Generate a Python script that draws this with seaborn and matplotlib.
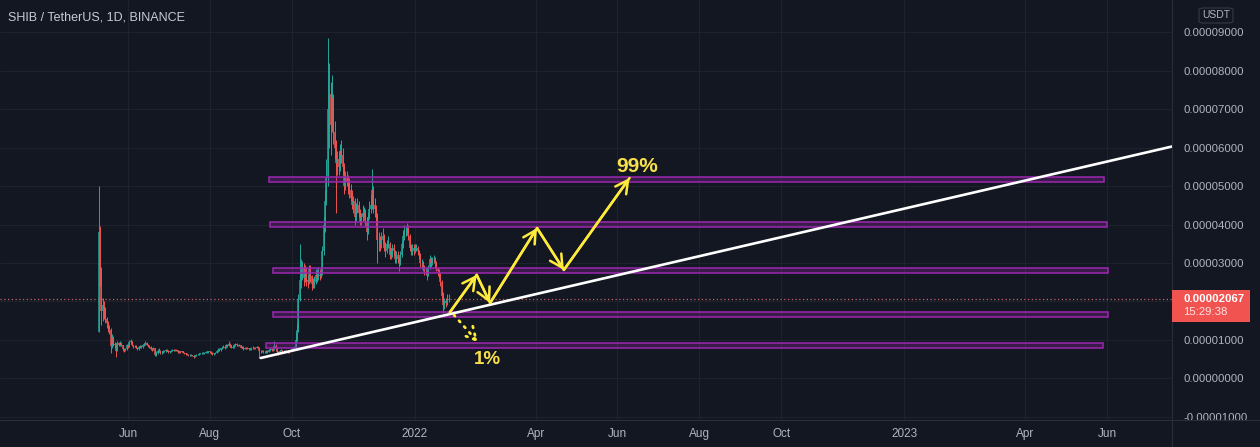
import numpy as np
import pandas as pd
import matplotlib
matplotlib.use("Agg")
import matplotlib.pyplot as plt
import matplotlib.dates as mdates
from matplotlib.patches import Rectangle, FancyBboxPatch
from matplotlib.lines import Line2D
import seaborn as sns

# ---------------- data: SHIB/USDT daily candles, price in units of 1e-5 ----------------
first_day = "2021-05-10"
first_open = 1.20

close_may = [3.80, 2.85, 1.75, 1.90, 1.70, 1.55, 1.45, 1.30, 1.25, 0.85, 1.05, 0.90, 0.88, 0.72, 0.92, 0.88, 0.92, 0.86, 0.76, 0.73, 0.76, 0.86]
high_may = [5.00, 3.95, 2.90, 2.10, 2.00, 1.85, 1.60, 1.50, 1.40, 1.30, 1.15, 1.10, 0.95, 0.90, 0.98, 0.95, 0.98, 0.94, 0.88, 0.80, 0.80, 0.90]
low_may = [1.20, 2.40, 1.40, 1.50, 1.55, 1.45, 1.30, 1.20, 1.15, 0.65, 0.78, 0.85, 0.80, 0.55, 0.70, 0.84, 0.85, 0.84, 0.72, 0.68, 0.70, 0.74]

close_jun = [0.83, 0.95, 0.96, 0.86, 0.83, 0.85, 0.80, 0.76, 0.82, 0.84, 0.82, 0.86, 0.90, 0.92, 0.88, 0.84, 0.81, 0.77, 0.76, 0.78, 0.62, 0.66, 0.72, 0.72, 0.66, 0.67, 0.70, 0.70, 0.73, 0.72]
high_jun = [0.90, 1.00, 1.02, 0.98, 0.88, 0.88, 0.87, 0.82, 0.85, 0.88, 0.86, 0.88, 0.93, 0.96, 0.94, 0.90, 0.86, 0.83, 0.80, 0.82, 0.79, 0.70, 0.76, 0.78, 0.74, 0.70, 0.73, 0.74, 0.76, 0.76]
low_jun = [0.78, 0.81, 0.90, 0.84, 0.80, 0.81, 0.78, 0.74, 0.74, 0.80, 0.80, 0.80, 0.85, 0.88, 0.86, 0.82, 0.78, 0.74, 0.72, 0.74, 0.58, 0.58, 0.64, 0.69, 0.64, 0.63, 0.66, 0.68, 0.69, 0.70]

close_jul = [0.69, 0.70, 0.72, 0.74, 0.72, 0.74, 0.73, 0.68, 0.70, 0.69, 0.70, 0.67, 0.65, 0.64, 0.62, 0.61, 0.61, 0.61, 0.59, 0.56, 0.60, 0.61, 0.62, 0.64, 0.65, 0.67, 0.66, 0.66, 0.68, 0.68, 0.70]
high_jul = [0.74, 0.72, 0.74, 0.76, 0.76, 0.76, 0.76, 0.74, 0.72, 0.72, 0.72, 0.71, 0.69, 0.67, 0.66, 0.64, 0.63, 0.63, 0.62, 0.60, 0.62, 0.63, 0.64, 0.66, 0.67, 0.69, 0.69, 0.68, 0.70, 0.71, 0.72]
low_jul = [0.67, 0.67, 0.69, 0.71, 0.70, 0.71, 0.71, 0.66, 0.67, 0.67, 0.68, 0.66, 0.63, 0.62, 0.60, 0.59, 0.59, 0.59, 0.57, 0.54, 0.55, 0.59, 0.60, 0.61, 0.63, 0.64, 0.64, 0.64, 0.65, 0.66, 0.67]

close_aug = [0.68, 0.66, 0.64, 0.65, 0.67, 0.70, 0.75, 0.73, 0.78, 0.80, 0.82, 0.79, 0.86, 0.85, 0.90, 0.86, 0.80, 0.82, 0.86, 0.90, 0.86, 0.85, 0.86, 0.80, 0.82, 0.77, 0.80, 0.79, 0.78, 0.76, 0.77]
high_aug = [0.72, 0.70, 0.68, 0.67, 0.69, 0.72, 0.78, 0.78, 0.80, 0.84, 0.86, 0.84, 0.90, 0.89, 0.98, 0.92, 0.88, 0.85, 0.88, 0.93, 0.92, 0.88, 0.89, 0.88, 0.84, 0.84, 0.82, 0.82, 0.81, 0.80, 0.79]
low_aug = [0.66, 0.64, 0.62, 0.62, 0.63, 0.66, 0.69, 0.71, 0.72, 0.77, 0.79, 0.77, 0.78, 0.82, 0.83, 0.84, 0.78, 0.78, 0.80, 0.85, 0.84, 0.83, 0.83, 0.78, 0.78, 0.75, 0.76, 0.77, 0.76, 0.74, 0.74]

close_sep = [0.79, 0.80, 0.78, 0.79, 0.82, 0.80, 0.70, 0.70, 0.72, 0.68, 0.69, 0.72, 0.69, 0.73, 0.76, 0.74, 0.74, 0.84, 0.78, 0.68, 0.66, 0.72, 0.73, 0.71, 0.71, 0.72, 0.69, 0.68, 0.72, 0.72]
high_sep = [0.82, 0.84, 0.82, 0.82, 0.85, 0.84, 0.82, 0.74, 0.75, 0.74, 0.71, 0.74, 0.73, 0.75, 0.78, 0.78, 0.77, 0.98, 0.90, 0.80, 0.70, 0.74, 0.76, 0.75, 0.73, 0.74, 0.74, 0.71, 0.74, 0.75]
low_sep = [0.75, 0.77, 0.76, 0.77, 0.78, 0.78, 0.52, 0.65, 0.68, 0.66, 0.66, 0.67, 0.67, 0.68, 0.72, 0.72, 0.72, 0.73, 0.76, 0.66, 0.60, 0.65, 0.70, 0.69, 0.68, 0.69, 0.68, 0.66, 0.67, 0.70]

close_oct = [0.77, 0.79, 0.80, 1.00, 1.25, 2.05, 2.55, 2.65, 2.90, 2.60, 2.75, 2.55, 2.50, 2.85, 2.65, 2.45, 2.45, 2.50, 2.70, 2.60, 2.70, 2.65, 2.75, 3.30, 4.00, 4.60, 5.20, 7.00, 7.40, 6.60, 7.30]
high_oct = [0.80, 0.82, 0.83, 1.20, 1.45, 2.20, 3.50, 3.10, 3.05, 3.00, 2.95, 2.90, 2.70, 2.95, 2.95, 2.70, 2.60, 2.65, 2.85, 2.85, 2.90, 2.85, 2.90, 3.45, 4.20, 4.90, 5.70, 8.86, 8.20, 7.70, 7.90]
low_oct = [0.70, 0.75, 0.76, 0.78, 0.98, 1.20, 2.00, 2.35, 2.55, 2.40, 2.50, 2.40, 2.35, 2.45, 2.50, 2.30, 2.35, 2.35, 2.45, 2.50, 2.55, 2.55, 2.60, 2.70, 3.20, 3.80, 4.50, 5.00, 6.00, 5.80, 6.40]

close_nov = [6.40, 6.00, 5.60, 5.70, 5.50, 5.90, 5.80, 5.50, 5.00, 5.20, 5.10, 5.00, 4.90, 4.70, 4.50, 4.60, 4.20, 4.40, 4.50, 4.30, 4.10, 4.20, 4.30, 4.30, 4.10, 3.80, 4.20, 4.40, 4.50, 4.90]
high_nov = [7.40, 6.70, 6.20, 5.90, 5.90, 6.10, 6.20, 6.00, 5.60, 5.40, 5.40, 5.30, 5.20, 5.05, 4.90, 4.75, 4.70, 4.55, 4.70, 4.60, 4.40, 4.30, 4.50, 4.45, 4.40, 4.20, 4.30, 4.60, 4.80, 5.45]
low_nov = [6.10, 5.70, 4.30, 5.30, 5.30, 5.40, 5.60, 5.30, 4.80, 4.90, 5.00, 4.80, 4.70, 4.60, 4.40, 4.30, 4.00, 4.10, 4.30, 4.20, 4.00, 4.00, 4.10, 4.20, 3.95, 3.60, 3.75, 4.15, 4.30, 4.40]

close_dec = [4.50, 4.40, 4.20, 3.60, 3.60, 3.50, 3.60, 3.70, 3.40, 3.30, 3.50, 3.50, 3.20, 3.30, 3.40, 3.30, 3.10, 3.20, 3.10, 3.00, 3.20, 3.50, 3.70, 3.80, 3.80, 3.90, 3.70, 3.40, 3.30, 3.40, 3.30]
high_dec = [5.00, 4.70, 4.50, 4.30, 3.80, 3.70, 3.80, 3.90, 3.75, 3.55, 3.60, 3.70, 3.55, 3.40, 3.50, 3.50, 3.35, 3.30, 3.30, 3.15, 3.30, 3.60, 3.85, 4.00, 3.95, 4.05, 4.00, 3.75, 3.50, 3.50, 3.50]
low_dec = [4.30, 4.20, 4.00, 3.00, 3.30, 3.30, 3.40, 3.50, 3.30, 3.15, 3.25, 3.40, 3.10, 3.10, 3.15, 3.20, 3.00, 3.00, 3.00, 2.80, 2.95, 3.15, 3.40, 3.60, 3.70, 3.75, 3.60, 3.30, 3.20, 3.20, 3.20]

close_jan = [3.40, 3.40, 3.30, 3.20, 3.00, 3.00, 2.90, 2.80, 2.80, 2.70, 2.90, 3.10, 3.00, 3.10, 3.10, 3.00, 2.85, 2.80, 2.70, 2.50, 2.15, 1.90, 2.00, 1.95, 2.05, 2.067]
high_jan = [3.50, 3.50, 3.45, 3.35, 3.25, 3.10, 3.05, 2.95, 2.90, 2.85, 2.95, 3.20, 3.15, 3.15, 3.20, 3.15, 3.05, 2.90, 2.85, 2.75, 2.55, 2.25, 2.10, 2.10, 2.20, 2.20]
low_jan = [3.25, 3.30, 3.20, 3.10, 2.90, 2.85, 2.80, 2.70, 2.70, 2.55, 2.65, 2.85, 2.90, 2.95, 3.00, 2.90, 2.80, 2.65, 2.60, 2.40, 2.05, 1.70, 1.80, 1.85, 1.90, 1.98]

# drawings on the chart
zone_start = ["2021-09-14", "2021-09-15", "2021-09-17", "2021-09-17", "2021-09-12"]
zone_end = ["2023-05-30", "2023-06-01", "2023-06-02", "2023-06-02", "2023-05-29"]
zone_level = [5.16, 4.01, 2.80, 1.66, 0.86]
zone_height = 0.13

trend_dates = ["2021-09-08", "2023-07-19 12:00"]
trend_prices = [0.53, 6.03]

path_dates = ["2022-01-27", "2022-02-16", "2022-02-26", "2022-04-02", "2022-04-22", "2022-06-10"]
path_prices = [1.72, 2.69, 1.96, 3.91, 2.82, 5.21]
alt_dates = ["2022-01-30", "2022-02-17"]
alt_prices = [1.65, 0.94]
text_labels = ["99%", "1%"]
text_dates = ["2022-06-16", "2022-02-24"]
text_prices = [5.50, 0.48]
text_sizes = [15, 13.5]

price_ticks = [-1, 0, 1, 2, 3, 4, 5, 6, 7, 8, 9]
month_tick_dates = ["2021-06-01", "2021-08-01", "2021-10-01", "2022-01-01", "2022-04-01", "2022-06-01",
                    "2022-08-01", "2022-10-01", "2023-01-01", "2023-04-01", "2023-06-01"]
month_tick_labels = ["Jun", "Aug", "Oct", "2022", "Apr", "Jun", "Aug", "Oct", "2023", "Apr", "Jun"]
x_range = ["2021-02-25 13:00", "2023-07-19 12:00"]
y_range = [-1.07, 9.84]

title = "SHIB / TetherUS, 1D, BINANCE"
currency = "USDT"
countdown = "15:29:38"

# ---------------- style ----------------
BG = "#131722"
GRID = "#1e222d"
TXT = "#b2b5be"
TEAL = "#26a69a"
RED = "#ef5350"
YEL = "#ffeb3b"
PURPLE = "#9c27b0"
SEP = "#2a2e39"

sns.set_style("dark", {"axes.facecolor": BG, "figure.facecolor": BG, "axes.grid": True,
                       "grid.color": GRID, "axes.edgecolor": BG, "text.color": TXT,
                       "xtick.color": TXT, "ytick.color": TXT})
plt.rcParams["font.family"] = ["Liberation Sans", "DejaVu Sans"]

W, H = 1260, 447
fig = plt.figure(figsize=(W / 100, H / 100), dpi=100, facecolor=BG)
ax = fig.add_axes([0, 27.5 / H, 1172 / W, 419.5 / H])
ax.set_facecolor(BG)

def dn(s):
    return mdates.date2num(pd.to_datetime(s))

close = np.array(close_may + close_jun + close_jul + close_aug + close_sep + close_oct + close_nov + close_dec + close_jan)
high = np.array(high_may + high_jun + high_jul + high_aug + high_sep + high_oct + high_nov + high_dec + high_jan)
low = np.array(low_may + low_jun + low_jul + low_aug + low_sep + low_oct + low_nov + low_dec + low_jan)
opens = np.r_[first_open, close[:-1]]
high = np.maximum(high, np.maximum(opens, close))
low = np.minimum(low, np.minimum(opens, close))
dates = pd.date_range(first_day, periods=len(close), freq="D")
xd = mdates.date2num(dates)

ax.set_xlim(dn(x_range[0]), dn(x_range[1]))
ax.set_ylim(*y_range)

# grid
ax.set_yticks(price_ticks)
ax.set_xticks([dn(d) for d in month_tick_dates])
ax.grid(True, color=GRID, lw=0.8)

# candles
cols = np.where(close >= opens, TEAL, RED)
ax.vlines(xd, low, high, colors=cols, lw=0.7, zorder=3)
ax.vlines(xd, np.minimum(opens, close), np.maximum(opens, close), colors=cols, lw=1.1, zorder=3)

# current price dotted line
last = close[-1]
ax.axhline(last, color="#e57373", ls=(0, (1, 2)), lw=0.9, alpha=0.85, zorder=2)

# purple zones
for s, e, lv in zip(zone_start, zone_end, zone_level):
    ax.add_patch(Rectangle((dn(s), lv - zone_height / 2), dn(e) - dn(s), zone_height,
                           facecolor=(0.61, 0.15, 0.69, 0.28), edgecolor=PURPLE, lw=1.1, zorder=4))

# trend line (seaborn)
trend = pd.DataFrame({"x": [dn(d) for d in trend_dates], "y": trend_prices})
sns.lineplot(data=trend, x="x", y="y", ax=ax, color="white", lw=1.9, zorder=5, sort=False)

# projection path (seaborn) + arrowheads
path = pd.DataFrame({"x": [dn(d) for d in path_dates], "y": path_prices})
sns.lineplot(data=path, x="x", y="y", ax=ax, color=YEL, lw=1.8, zorder=6, sort=False)
for i in range(len(path) - 1):
    ax.annotate("", xy=(path.x[i + 1], path.y[i + 1]), xytext=(path.x[i], path.y[i]),
                arrowprops=dict(arrowstyle="->,head_length=0.6,head_width=0.32", color=YEL, lw=1.8,
                                shrinkA=0, shrinkB=0, mutation_scale=15), zorder=6)
ax.annotate("", xy=(dn(alt_dates[1]), alt_prices[1]), xytext=(dn(alt_dates[0]), alt_prices[0]),
            arrowprops=dict(arrowstyle="->,head_length=0.6,head_width=0.32", color=YEL, lw=2.0,
                            ls=(0, (0.6, 2.2)), shrinkA=0, shrinkB=0, mutation_scale=15), zorder=6)
for t, d, p, s in zip(text_labels, text_dates, text_prices, text_sizes):
    ax.text(dn(d), p, t, color="#f7e04a", fontsize=s, fontweight="bold", ha="center", va="center", zorder=7)

# axes cosmetics
ax.yaxis.tick_right()
ylabels = [f"{v * 1e-5:.8f}" if v != 2 else "" for v in price_ticks]
ax.set_yticklabels(ylabels)
ax.set_xticklabels(month_tick_labels)
ax.tick_params(axis="y", length=0, pad=8, labelsize=8.2, colors=TXT)
ax.tick_params(axis="x", length=0, pad=6, labelsize=8.5, colors=TXT)
ax.set_xlabel("")
ax.set_ylabel("")
for sp in ax.spines.values():
    sp.set_visible(False)

# time-scale strip under the price scale hides the lower half of the last price label
fig.add_artist(Rectangle((1172 / W, 0), (W - 1172) / W, 27.5 / H, transform=fig.transFigure,
                         facecolor=BG, edgecolor="none", zorder=5))

# separators of the price and time scales
fig.add_artist(Line2D([1172 / W, 1172 / W], [0, 1], color=SEP, lw=0.8, transform=fig.transFigure, zorder=6))
fig.add_artist(Line2D([0, 1], [27.5 / H, 27.5 / H], color=SEP, lw=0.8, transform=fig.transFigure, zorder=6))

# title
fig.text(8 / W, 1 - 17 / H, title, color="#c8cbd3", fontsize=9, va="center", ha="left")

# currency box
fig.add_artist(FancyBboxPatch((1199 / W, 1 - 23 / H), 34 / W, 15 / H, boxstyle="round,pad=0,rounding_size=0.004",
                              transform=fig.transFigure, facecolor=BG, edgecolor="#363a45", lw=0.8))
fig.text(1216 / W, 1 - 15.5 / H, currency, color=TXT, fontsize=7.5, ha="center", va="center")

# last price tag
fig.canvas.draw()
py = ax.transData.transform((0, last))[1]
fig.add_artist(Rectangle((1172 / W, (py - 23.5) / H), 78 / W, 32 / H, transform=fig.transFigure,
                         facecolor="#f05350", edgecolor="none", zorder=7))
fig.text(1183 / W, py / H, f"{last * 1e-5:.8f}", color="white", fontsize=8.2, fontweight="bold",
         va="center", zorder=8)
fig.text(1183 / W, (py - 13) / H, countdown, color="#ffe4e4", fontsize=8.2, va="center", zorder=8)

fig.savefig("out.png", dpi=100, facecolor=BG)
